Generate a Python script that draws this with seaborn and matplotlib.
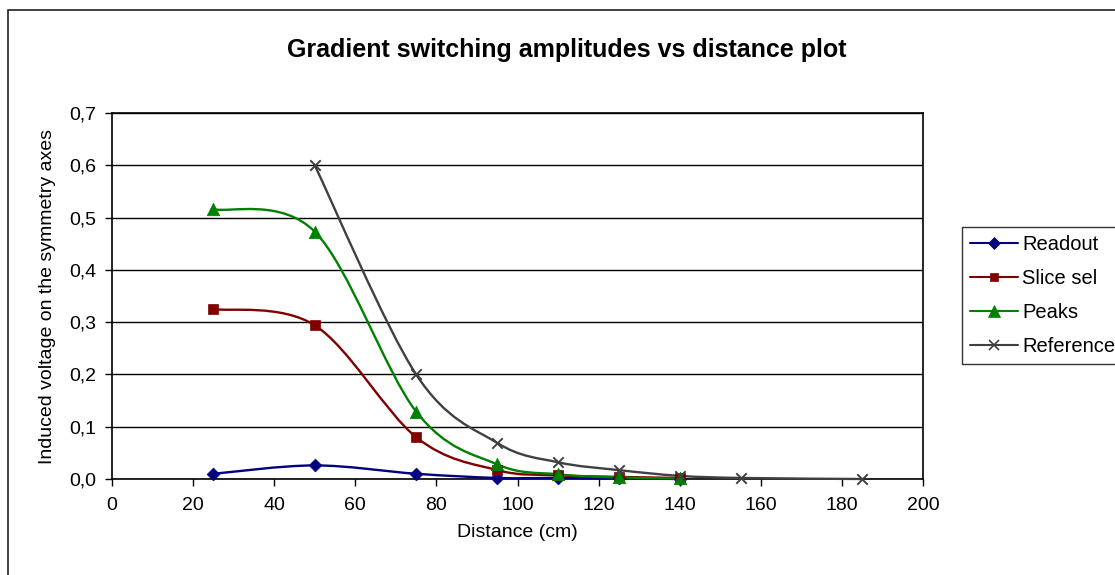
import numpy as np
import pandas as pd
import matplotlib
matplotlib.use("Agg")
import matplotlib.pyplot as plt
from matplotlib.path import Path
from matplotlib.patches import PathPatch, Rectangle
from matplotlib.lines import Line2D
from matplotlib.ticker import FuncFormatter, MultipleLocator
import seaborn as sns

# Measured induced voltages per gradient type
readout_x = [25, 50, 75, 95, 110, 125, 140]
readout_y = [0.010, 0.026, 0.010, 0.002, 0.002, 0.001, 0.000]

slice_x = [25, 50, 75, 95, 110, 125, 140]
slice_y = [0.325, 0.294, 0.080, 0.017, 0.007, 0.004, 0.002]

peaks_x = [25, 50, 75, 95, 110, 125, 140]
peaks_y = [0.516, 0.473, 0.129, 0.028, 0.009, 0.003, 0.001]

reference_x = [50, 75, 95, 110, 125, 140, 155, 185]
reference_y = [0.600, 0.200, 0.069, 0.032, 0.017, 0.006, 0.002, 0.000]

series_names = ["Readout", "Slice sel", "Peaks", "Reference"]
series_colors = ["#000080", "#800000", "#008000", "#404040"]
series_markers = ["D", "s", "^", "x"]
marker_sizes = [6.5, 7, 9, 7.5]

frames = []
for name, xs, ys in zip(series_names,
                        [readout_x, slice_x, peaks_x, reference_x],
                        [readout_y, slice_y, peaks_y, reference_y]):
    frames.append(pd.DataFrame({"distance": xs, "voltage": ys, "series": name}))
df = pd.concat(frames, ignore_index=True)

sns.set_style("white")
plt.rcParams["font.family"] = ["Liberation Sans", "DejaVu Sans"]
plt.rcParams["text.color"] = "#000000"
plt.rcParams["axes.labelcolor"] = "#000000"

W, H = 1115, 575
fig = plt.figure(figsize=(W / 100, H / 100), dpi=100)
ax = fig.add_axes([112 / W, 1 - 479 / H, (923 - 112) / W, (479 - 113) / H])

# Outer chart frame
fig.patches.append(Rectangle((8 / W, -0.1), 1.2, 1 - 10 / H + 0.1,
                             transform=fig.transFigure, fill=False,
                             edgecolor="#202020", linewidth=1.2, zorder=0))


def smooth_path(xs, ys):
    """Cubic Bezier path through the points (Catmull-Rom style smoothing)."""
    pts = np.column_stack([xs, ys]).astype(float)
    n = len(pts)
    verts = [pts[0]]
    codes = [Path.MOVETO]
    for i in range(n - 1):
        p0 = pts[i - 1] if i > 0 else pts[i]
        p1 = pts[i]
        p2 = pts[i + 1]
        p3 = pts[i + 2] if i + 2 < n else pts[i + 1]
        c1 = p1 + (p2 - p0) / 6.0
        c2 = p2 - (p3 - p1) / 6.0
        verts += [c1, c2, p2]
        codes += [Path.CURVE4] * 3
    return Path(verts, codes)


for name, color in zip(series_names, series_colors):
    sub = df[df["series"] == name]
    patch = PathPatch(smooth_path(sub["distance"].values, sub["voltage"].values),
                      facecolor="none", edgecolor=color, linewidth=1.7,
                      zorder=3, clip_on=False)
    ax.add_patch(patch)

for name, color, marker, ms in zip(series_names, series_colors, series_markers, marker_sizes):
    sub = df[df["series"] == name]
    kw = dict(x="distance", y="voltage", data=sub, ax=ax, color=color,
              marker=marker, s=ms ** 2, zorder=4, legend=False, clip_on=False)
    if marker == "x":
        kw["linewidth"] = 1.4
    else:
        kw["edgecolor"] = color
        kw["linewidth"] = 0.5
    sns.scatterplot(**kw)

ax.set_xlim(0, 200)
ax.set_ylim(0, 0.7)
ax.xaxis.set_major_locator(MultipleLocator(20))
ax.yaxis.set_major_locator(MultipleLocator(0.1))
ax.yaxis.set_major_formatter(FuncFormatter(lambda v, p: f"{v:.1f}".replace(".", ",")))
ax.xaxis.set_major_formatter(FuncFormatter(lambda v, p: f"{v:.0f}"))

ax.grid(axis="y", color="#000000", linewidth=1.0)
ax.grid(axis="x", visible=False)
ax.set_axisbelow(True)
for side in ["left", "bottom", "right", "top"]:
    ax.spines[side].set_visible(True)
    ax.spines[side].set_color("#000000")
    ax.spines[side].set_linewidth(1.2)

ax.tick_params(axis="both", which="major", direction="out", length=5, width=1,
               color="#000000", labelsize=14, labelcolor="#000000",
               bottom=True, left=True, pad=6)
ax.tick_params(axis="x", pad=8)

ax.set_xlabel("Distance (cm)", fontsize=14, labelpad=7, color="#000000")
ax.set_ylabel("Induced voltage on the symmetry axes", fontsize=14, labelpad=10, color="#000000")
fig.text(567 / W, 1 - 50 / H, "Gradient switching amplitudes vs distance plot",
         ha="center", va="center", fontsize=18, fontweight="bold", color="#000000")

handles = [Line2D([0], [0], color=c, marker=m, markersize=ms * 0.9, linewidth=1.5,
                  markeredgewidth=1.2 if m == "x" else 0.5)
           for c, m, ms in zip(series_colors, series_markers, marker_sizes)]
leg = fig.legend(handles, series_names, loc="upper left",
                 bbox_to_anchor=(962 / W, 1 - 227 / H), fontsize=14.5,
                 frameon=True, fancybox=False, handlelength=2.4,
                 handletextpad=0.2, borderpad=0.4, labelspacing=0.75,
                 borderaxespad=0)
leg.get_frame().set_edgecolor("#000000")
leg.get_frame().set_linewidth(1.0)
for t in leg.get_texts():
    t.set_color("#000000")

fig.savefig("out.png", dpi=100, facecolor="white")
